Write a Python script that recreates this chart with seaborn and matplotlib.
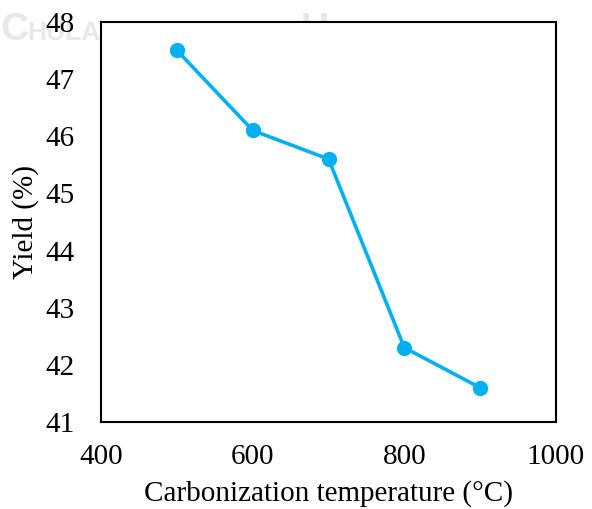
import matplotlib
matplotlib.use("Agg")
import matplotlib.pyplot as plt
import seaborn as sns
import pandas as pd

temperatures = [500, 600, 700, 800, 900]
yields = [47.5, 46.1, 45.6, 42.3, 41.6]
x_ticks = [400, 600, 800, 1000]
y_ticks = [41, 42, 43, 44, 45, 46, 47, 48]

sns.set_theme(style="white")
plt.rcParams['font.family'] = ['Liberation Serif', 'DejaVu Serif']

df = pd.DataFrame({"temp": temperatures, "yield": yields})

fig = plt.figure(figsize=(5.92, 5.09), dpi=100)
ax = fig.add_axes([0.171, 0.171, 0.768, 0.786])

wm = dict(color="#e8e8e8", fontweight="bold", family=["Liberation Sans", "DejaVu Sans"],
          zorder=-5, va="baseline")
fig.text(0.0, 0.922, "C", fontsize=28, **wm)
fig.text(0.046, 0.922, "HULALONGKORN", fontsize=19, **wm)
fig.text(0.508, 0.922, "U", fontsize=28, **wm)
fig.text(0.558, 0.922, "NIVERSITY", fontsize=19, **wm)

sns.lineplot(data=df, x="temp", y="yield", ax=ax, color="#00B0F0", linewidth=2.6,
             marker="o", markersize=11, markeredgewidth=0)

ax.set_xlim(400, 1000)
ax.set_ylim(41, 48)
ax.set_xticks(x_ticks)
ax.set_yticks(y_ticks)
ax.tick_params(axis="both", labelsize=21, length=0, colors="black")
ax.tick_params(axis="x", pad=16)
ax.tick_params(axis="y", pad=19)
ax.set_xlabel("Carbonization temperature (°C)", fontsize=21, labelpad=7, color="black")
ax.set_ylabel("Yield (%)", fontsize=21, labelpad=5, color="black")
for s in ax.spines.values():
    s.set_color("black")
    s.set_linewidth(1.5)
ax.set_facecolor("white")
ax.patch.set_zorder(0)

fig.savefig("out.png", dpi=100)
